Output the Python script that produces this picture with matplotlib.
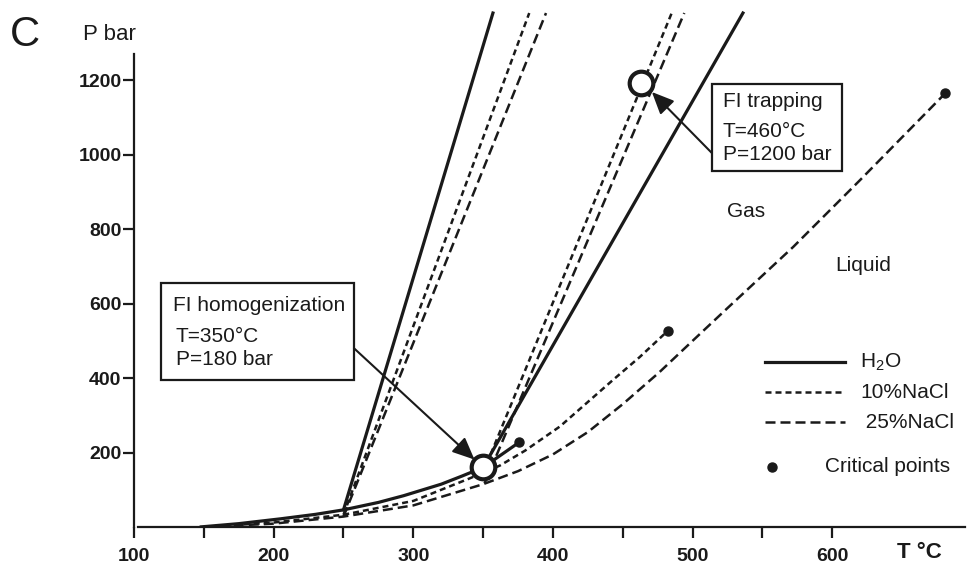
import numpy as np
import matplotlib.pyplot as plt
from matplotlib.patches import Rectangle
from matplotlib.lines import Line2D

plt.rcParams['font.family'] = ['Liberation Sans', 'DejaVu Sans']
plt.rcParams['mathtext.fontset'] = 'custom'
plt.rcParams['mathtext.rm'] = 'Liberation Sans'

# liquid-vapour curves (T in °C, P in bar)
h2o_t = [147, 175, 205, 230, 250, 275, 293, 320, 335, 350, 376]
h2o_p = [0, 9, 22, 34, 46, 66, 84, 115, 137, 160, 228]
nacl10_t = [150, 200, 250, 300, 340, 362, 380, 405, 443, 462, 482]
nacl10_p = [0, 12, 33, 70, 130, 165, 205, 270, 395, 456, 526]
nacl25_t = [150, 200, 250, 300, 350, 375, 400, 425, 450, 476, 500, 525, 572,
            620, 681]
nacl25_p = [0, 9, 28, 58, 115, 150, 195, 255, 330, 415, 500, 588, 752, 932,
            1165]

# isochores (start / end)
iso_h2o_left_t = [250, 357]
iso_h2o_left_p = [46, 1380]
iso_10_left_t = [250, 383]
iso_10_left_p = [33, 1380]
iso_25_left_t = [250, 395]
iso_25_left_p = [28, 1380]
iso_h2o_right_t = [350, 536]
iso_h2o_right_p = [160, 1380]
iso_10_right_t = [350, 485]
iso_10_right_p = [146, 1380]
iso_25_right_t = [351, 494]
iso_25_right_p = [117, 1380]

# critical points
crit_t = [376, 482, 681]
crit_p = [228, 526, 1165]

# fluid inclusion points
homog_t, homog_p = 350, 160
trap_t, trap_p = 463, 1192

x_ticks = [100, 200, 300, 400, 500, 600]
x_minor = [150, 250, 350, 450, 550]
y_ticks = [200, 400, 600, 800, 1000, 1200]

W, H = 978, 564
fig = plt.figure(figsize=(W / 100, H / 100), dpi=100)
ax = fig.add_axes([134 / W, 37 / H, 831 / W, 473 / H])
ax.set_xlim(100, 695)
ax.set_ylim(0, 1270)


def fx(px):
    return px / W


def fy(py):
    return 1 - py / H


short = (0, (2.4, 1.6))
longd = (0, (4, 2))
k = '#1a1a1a'

ax.plot(h2o_t, h2o_p, color=k, lw=2.3, solid_capstyle='butt')
ax.plot(nacl10_t, nacl10_p, color=k, lw=1.8, ls=short)
ax.plot(nacl25_t, nacl25_p, color=k, lw=1.8, ls=longd)

ax.plot(iso_h2o_left_t, iso_h2o_left_p, color=k, lw=2.3, clip_on=False)
ax.plot(iso_10_left_t, iso_10_left_p, color=k, lw=1.8, ls=short, clip_on=False)
ax.plot(iso_25_left_t, iso_25_left_p, color=k, lw=1.8, ls=longd, clip_on=False)
ax.plot(iso_h2o_right_t, iso_h2o_right_p, color=k, lw=2.3, clip_on=False)
ax.plot(iso_10_right_t, iso_10_right_p, color=k, lw=1.8, ls=short, clip_on=False)
ax.plot(iso_25_right_t, iso_25_right_p, color=k, lw=1.8, ls=longd, clip_on=False)

ax.plot(crit_t, crit_p, 'o', color=k, ms=6.5, zorder=4, clip_on=False)

ax.plot(homog_t, homog_p, 'o', ms=17, mfc='white', mec=k, mew=3, zorder=5)
ax.plot(trap_t, trap_p, 'o', ms=17, mfc='white', mec=k, mew=3, zorder=5)

# annotation boxes
ax.add_patch(Rectangle((119.3, 395), 138.2, 260, fill=False, lw=1.6, ec=k))
ax.text(128, 596, 'FI homogenization', fontsize=15, va='center', color=k)
ax.text(130, 512, 'T=350°C', fontsize=15, va='center', color=k)
ax.text(130, 450, 'P=180 bar', fontsize=15, va='center', color=k)

ax.add_patch(Rectangle((513.8, 955), 93, 234, fill=False, lw=1.6, ec=k))
ax.text(521.5, 1142, 'FI trapping', fontsize=15, va='center', color=k)
ax.text(521.5, 1061, 'T=460°C', fontsize=15, va='center', color=k)
ax.text(521.5, 999, 'P=1200 bar', fontsize=15, va='center', color=k)

arrow = dict(arrowstyle='-|>,head_length=0.9,head_width=0.4', lw=1.5,
             color=k, mutation_scale=15, shrinkA=0, shrinkB=0)
ax.annotate('', xy=(343.8, 181), xytext=(257.5, 480), arrowprops=arrow)
ax.annotate('', xy=(470.8, 1168), xytext=(513.8, 1004), arrowprops=arrow)

ax.text(538.5, 846, 'Gas', fontsize=15, ha='center', va='center', color=k)
ax.text(622, 703, 'Liquid', fontsize=15, ha='center', va='center', color=k)

# axes styling
for side in ['top', 'right']:
    ax.spines[side].set_visible(False)
ax.spines['left'].set_linewidth(1.6)
ax.spines['bottom'].set_linewidth(1.6)
ax.spines['bottom'].set_bounds(103, 695)
ax.spines['left'].set_color(k)
ax.spines['bottom'].set_color(k)

ax.set_xticks(x_ticks)
ax.set_xticks(x_minor, minor=True)
ax.set_yticks(y_ticks)
ax.tick_params(axis='both', which='both', direction='out', length=8,
               width=1.6, color=k)
ax.tick_params(axis='x', pad=7)
ax.tick_params(axis='y', pad=1)
for lab in ax.get_xticklabels() + ax.get_yticklabels():
    lab.set_fontweight('bold')
    lab.set_fontsize(14)
    lab.set_color(k)

# legend drawn by hand
legend_y = [362, 392, 422]
legend_styles = ['-', short, longd]
legend_lw = [2.3, 1.8, 1.8]
legend_text = ['H$_2$O', '10%NaCl', ' 25%NaCl']
for yy, st, lw, txt in zip(legend_y, legend_styles, legend_lw, legend_text):
    fig.add_artist(Line2D([fx(765), fx(845)], [fy(yy), fy(yy)], color=k,
                          lw=lw, ls=st))
    fig.text(fx(860), fy(yy), txt, fontsize=15, va='center', color=k)
fig.add_artist(Line2D([fx(772)], [fy(467)], marker='o', ms=6.5, color=k,
                      ls='none'))
fig.text(fx(825), fy(467), 'Critical points', fontsize=15, va='center',
         color=k)

fig.text(fx(10), fy(35), 'C', fontsize=30, va='center', color=k)
fig.text(fx(83), fy(35), 'P bar', fontsize=16, va='center', color=k)
fig.text(fx(897), fy(552), 'T °C', fontsize=16, va='center',
         fontweight='bold', color=k)

fig.savefig('out.png', dpi=100)
